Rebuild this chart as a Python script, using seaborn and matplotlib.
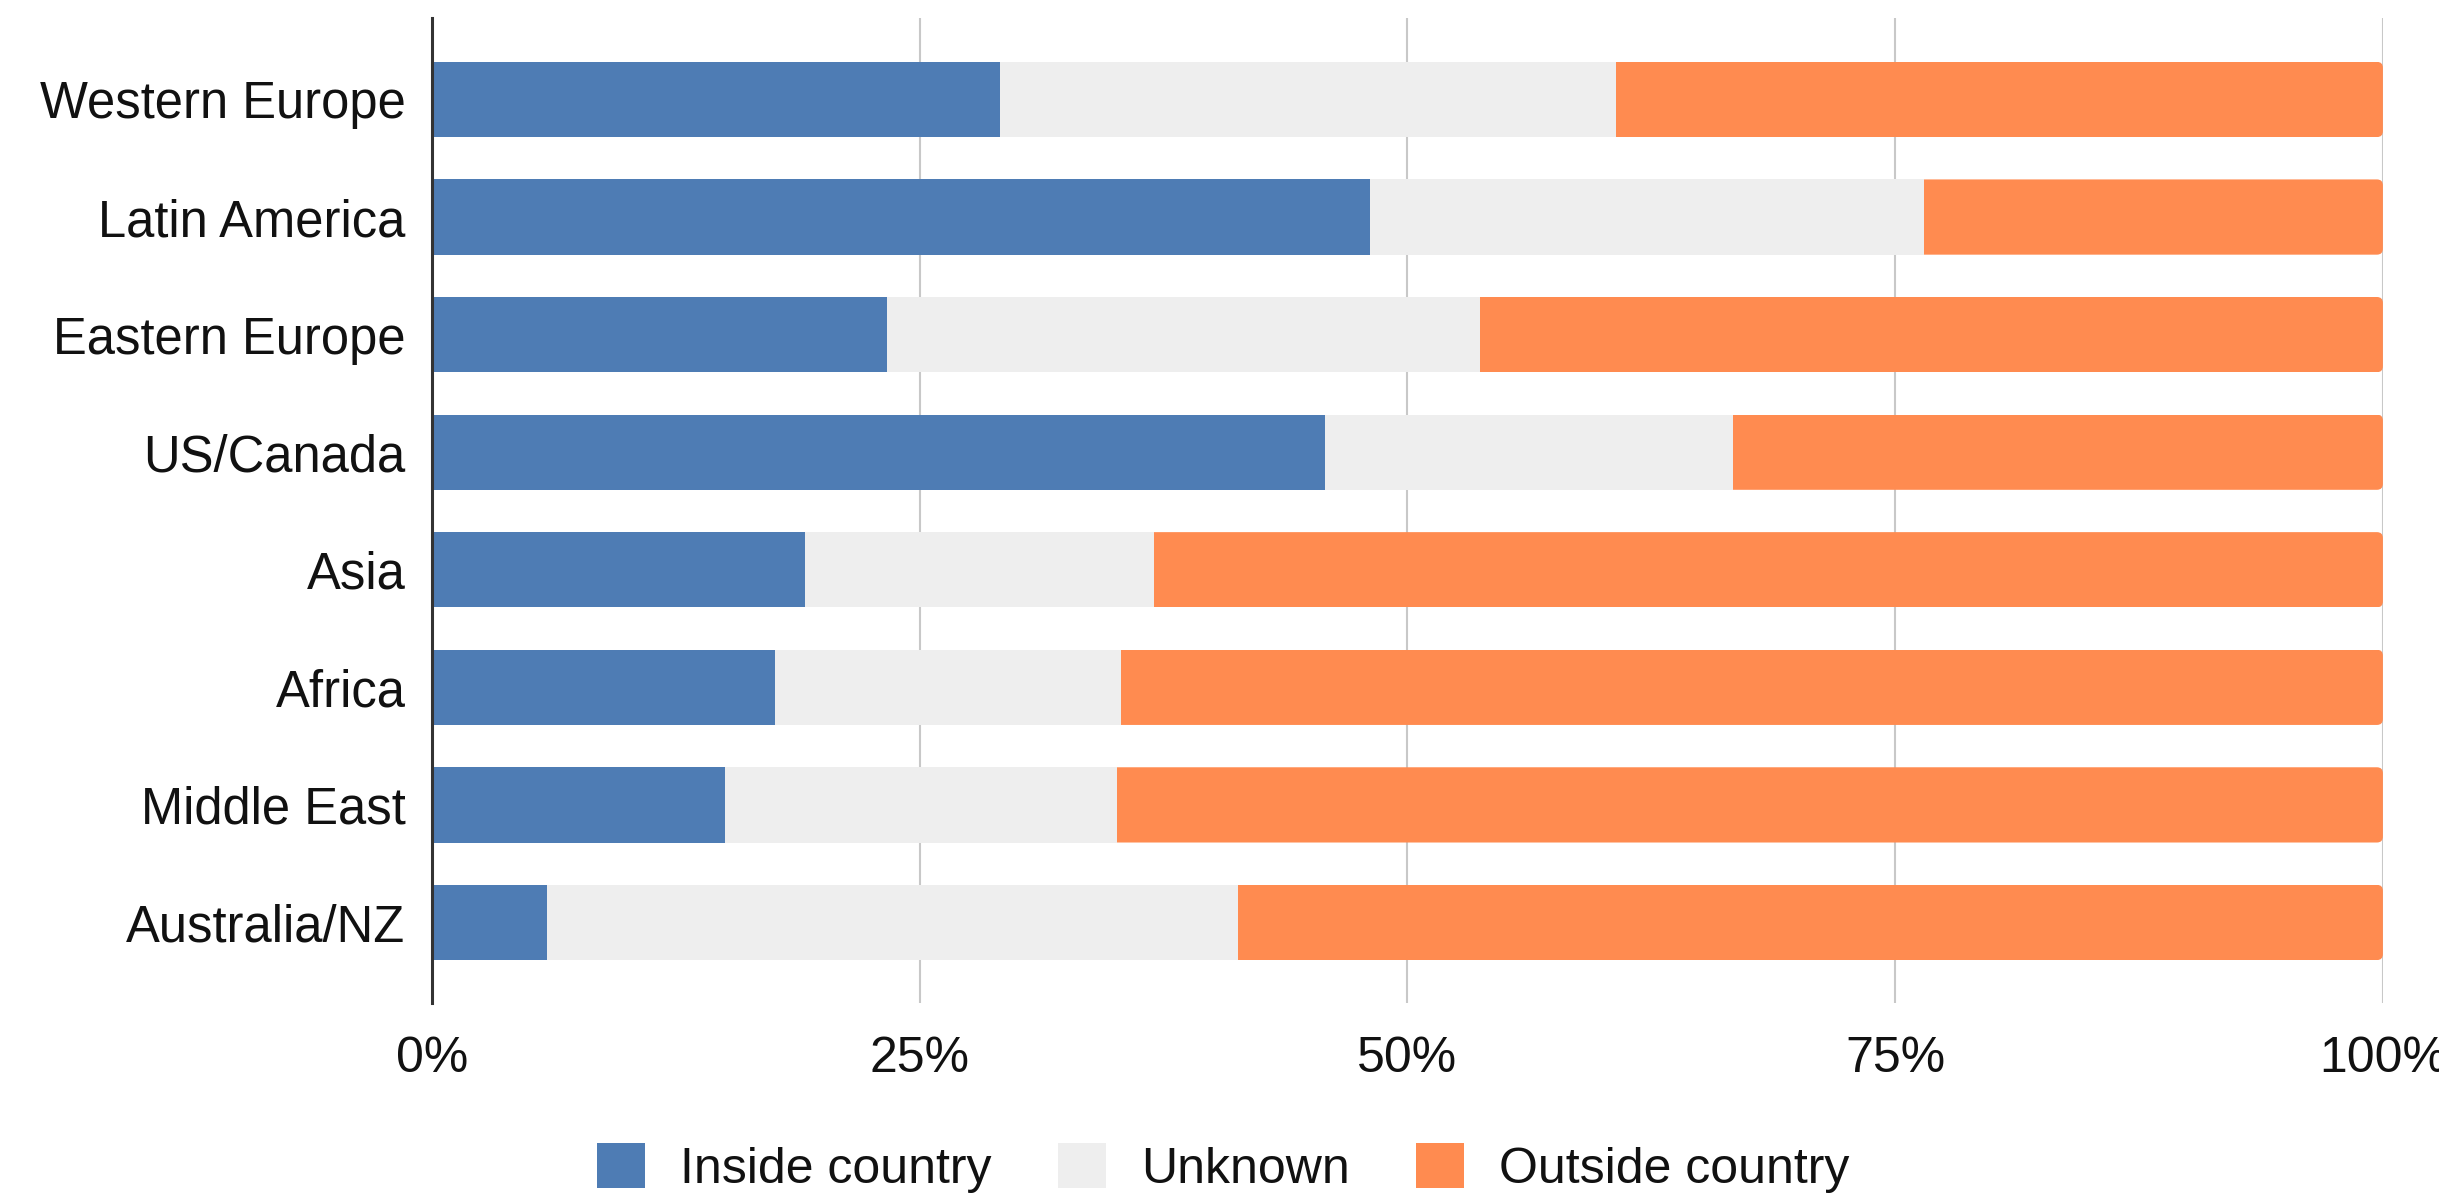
import matplotlib
matplotlib.use("Agg")
import matplotlib.pyplot as plt
from matplotlib.patches import Patch, FancyBboxPatch
import seaborn as sns
import pandas as pd

# Share of cases (%) per region, split by where it happened
regions = ["Western Europe", "Latin America", "Eastern Europe", "US/Canada",
           "Asia", "Africa", "Middle East", "Australia/NZ"]
inside_country = [29.1, 48.1, 23.3, 45.8, 19.1, 17.6, 15.0, 5.9]
unknown = [31.6, 28.4, 30.4, 20.9, 17.9, 17.7, 20.1, 35.4]
outside_country = [39.3, 23.5, 46.3, 33.3, 63.0, 64.7, 64.9, 58.7]

series_names = ["Inside country", "Unknown", "Outside country"]
series_colors = ["#4E7CB4", "#EEEEEE", "#FF8B50"]
x_ticks = [0, 25, 50, 75, 100]
x_tick_labels = ["0%", "25%", "50%", "75%", "100%"]

sns.set_theme(style="white")
plt.rcParams["font.family"] = ["Liberation Sans", "DejaVu Sans"]

df = pd.DataFrame({
    "region": regions,
    "inside": inside_country,
    "unknown": unknown,
    "outside": outside_country,
})
# cumulative right edges for the stacked segments
df["end_inside"] = df["inside"]
df["end_unknown"] = df["inside"] + df["unknown"]
df["end_outside"] = df["end_unknown"] + df["outside"]

fig = plt.figure(figsize=(24.39, 11.95), dpi=100)
ax = fig.add_axes([0.1771, 0.16067, 0.7999, 0.82427])

bar_w = 0.64
# draw widest first so the shorter segments sit on top
for col, color in [("end_outside", series_colors[2]),
                   ("end_unknown", series_colors[1]),
                   ("end_inside", series_colors[0])]:
    sns.barplot(data=df, y="region", x=col, orient="h", color=color,
                width=bar_w, saturation=1, ax=ax, zorder=3,
                linewidth=0, errorbar=None)

ax.set_xlim(0, 100)
ax.set_ylim(7.685, -0.693)

# soften the right end of each full-length bar with a rounded clip
x_px = ax.get_position().width * fig.get_size_inches()[0] * fig.dpi / 100.0
y_px = ax.get_position().height * fig.get_size_inches()[1] * fig.dpi / (7.685 + 0.693)
for bar in ax.containers[0]:
    x0, y0 = bar.get_x(), bar.get_y()
    w, h = bar.get_width(), bar.get_height()
    clip = FancyBboxPatch((x0, y0), w, h,
                          boxstyle="round,pad=0,rounding_size=%f" % (6 / x_px),
                          mutation_aspect=x_px / y_px,
                          transform=ax.transData, facecolor="none",
                          edgecolor="none")
    bar.set_clip_path(clip)

ax.set_xticks(x_ticks)
ax.set_xticklabels(x_tick_labels)
ax.set_xlabel("")
ax.set_ylabel("")

ax.grid(axis="x", color="#C8C8C8", linewidth=1.5, zorder=0)
ax.grid(axis="y", visible=False)
ax.set_axisbelow(True)
# the 0% gridline is replaced by the left spine
ax.xaxis.get_gridlines()[0].set_visible(False)

for s in ["top", "right", "bottom"]:
    ax.spines[s].set_visible(False)
ax.spines["left"].set_color("#333333")
ax.spines["left"].set_linewidth(2.2)
ax.spines["left"].set_zorder(5)

ax.tick_params(axis="x", length=0, pad=24, labelsize=36, labelcolor="#111111")
ax.tick_params(axis="y", length=0, pad=19, labelsize=36.5, labelcolor="#111111")

handles = [Patch(facecolor=c, edgecolor="none") for c in series_colors]
fig.legend(handles, series_names, loc="center", ncol=3, frameon=False,
           bbox_to_anchor=(0.5015, 0.0226), bbox_transform=fig.transFigure,
           fontsize=36, handlelength=0.96, handleheight=1.0,
           handletextpad=0.7, columnspacing=1.32, borderpad=0,
           labelcolor="#111111")

fig.savefig("out.png", dpi=100)
